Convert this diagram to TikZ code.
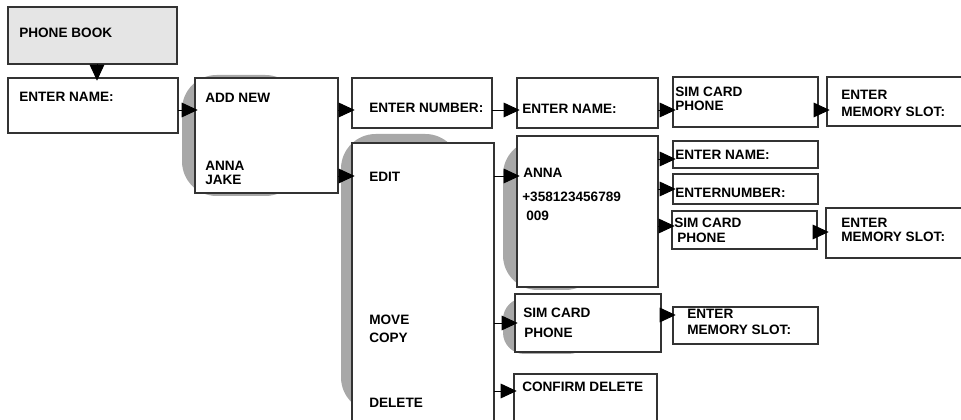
\documentclass[tikz,border=0pt]{standalone}
\usepackage{fontspec}
\setmainfont{Liberation Sans}
\usetikzlibrary{fit,arrows.meta}

\begin{document}
\begin{tikzpicture}[x=0.75pt,y=-0.75pt,
    every node/.style={font=\bfseries\fontsize{10.2}{12}\selectfont},
    menu/.style={draw=black!80, line width=0.9pt, fill=white, inner sep=0pt, outer sep=0pt},
    txt/.style={anchor=west, inner sep=0pt},
    hilite/.style={fill=black!34, rounded corners=26pt},
    arr/.style={line width=0.7pt, shorten >=-2pt, -{Triangle[length=12pt,width=11pt]}}]
                \useasboundingbox (0,0) rectangle (961,420);

                % selection shadows
                \fill[hilite] (182,75) rectangle (300,196);
                \fill[hilite] (341,134) rectangle (460,412);
                \fill[hilite] (503,140) rectangle (600,290);
                \fill[hilite, rounded corners=16pt] (503,298) rectangle (590,354);

                % boxes
                \node[menu, fill=black!10, fit={(8,7) (177,64)}] (pb) {};
                \node[menu, fit={(8,78) (178,133)}] (en1) {};
                \node[menu, fit={(195,78) (338,193)}] (sel) {};
                \node[menu, fit={(352,78) (492,128)}] (num1) {};
                \node[menu, fit={(517,78) (658,128)}] (en2) {};
                \node[menu, fit={(673,77) (818,127)}] (sim1) {};
                \node[menu, fit={(827,77) (975,126)}] (mem1) {};
                \node[menu, fit={(352,143) (494,430)}] (edit) {};
                \node[menu, fit={(517,136) (658,287)}] (anna) {};
                \node[menu, fit={(673,141) (818,168)}] (en3) {};
                \node[menu, fit={(673,174) (818,204)}] (num2) {};
                \node[menu, fit={(672,211) (817,249)}] (sim2) {};
                \node[menu, fit={(826,208) (975,258)}] (mem2) {};
                \node[menu, fit={(515,294) (661,352)}] (sim3) {};
                \node[menu, fit={(673,307) (818,344)}] (mem3) {};
                \node[menu, fit={(514,374) (657,430)}] (del) {};

                % texts
                \node[txt] (tPb) at (19,33) {PHONE BOOK};
                \node[txt] (tEn1) at (19,97) {ENTER NAME:};
                \node[txt] (tAdd) at (205,98) {ADD NEW};
                \node[txt] (tAnna) at (205,166) {ANNA};
                \node[txt] (tJake) at (205,180) {JAKE};
                \node[txt] (tNum1) at (369,108) {ENTER NUMBER:};
                \node[txt] (tEn2) at (522,109) {ENTER NAME:};
                \node[txt] (tSim1) at (675,92) {SIM CARD};
                \node[txt] (tPh1) at (675,106) {PHONE};
                \node[txt] (tMemA1) at (841,95) {ENTER};
                \node[txt] (tMemB1) at (841,112) {MEMORY SLOT:};
                \node[txt] (tEdit) at (369,177) {EDIT};
                \node[txt] (tMove) at (369,320) {MOVE};
                \node[txt] (tCopy) at (369,338) {COPY};
                \node[txt] (tDel) at (369,403) {DELETE};
                \node[txt] (tName) at (523,173) {ANNA};
                \node[txt] (tTel) at (522,197) {+358123456789};
                \node[txt] (tExt) at (526,216) {009};
                \node[txt] (tEn3) at (675,155) {ENTER NAME:};
                \node[txt] (tNum2) at (675,193) {ENTERNUMBER:};
                \node[txt] (tSim2) at (674,223) {SIM CARD};
                \node[txt] (tPh2) at (677,238) {PHONE};
                \node[txt] (tMemA2) at (841,223) {ENTER};
                \node[txt] (tMemB2) at (841,237) {MEMORY SLOT:};
                \node[txt] (tSim3) at (523,313) {SIM CARD};
                \node[txt] (tPh3) at (524,333) {PHONE};
                \node[txt] (tMemA3) at (687,314) {ENTER};
                \node[txt] (tMemB3) at (687,330) {MEMORY SLOT:};
                \node[txt] (tConf) at (522,387) {CONFIRM DELETE};

                % arrow rows
                \coordinate (xPb) at (97,0);
                \coordinate (yTop) at (0,110);
                \coordinate (yEdit) at (0,176);
                \coordinate (yName) at (0,159);
                \coordinate (yNum) at (0,189);
                \coordinate (ySim) at (0,226);
                \coordinate (yMem) at (0,232);
                \coordinate (yMove) at (0,323);
                \coordinate (yMemB) at (0,315);
                \coordinate (yDel) at (0,391);

                \draw[arr] (pb.south -| xPb) -- (en1.north -| xPb);
                \draw[arr] (en1.east |- yTop) -- (sel.west |- yTop);
                \draw[arr] (sel.east |- yTop) -- (num1.west |- yTop);
                \draw[arr] (num1.east |- yTop) -- (en2.west |- yTop);
                \draw[arr] (en2.east |- yTop) -- (sim1.west |- yTop);
                \draw[arr] (sim1.east |- yTop) -- (mem1.west |- yTop);
                \draw[arr] (sel.east |- yEdit) -- (edit.west |- yEdit);
                \draw[arr] (edit.east |- yEdit) -- (anna.west |- yEdit);
                \draw[arr] (anna.east |- yName) -- (en3.west |- yName);
                \draw[arr] (anna.east |- yNum) -- (num2.west |- yNum);
                \draw[arr] (anna.east |- ySim) -- (sim2.west |- ySim);
                \draw[arr] (sim2.east |- yMem) -- (mem2.west |- yMem);
                \draw[arr] (edit.east |- yMove) -- (sim3.west |- yMove);
                \draw[arr] (sim3.east |- yMemB) -- (mem3.west |- yMemB);
                \draw[arr] (edit.east |- yDel) -- (del.west |- yDel);
            \end{tikzpicture}
\end{document}
